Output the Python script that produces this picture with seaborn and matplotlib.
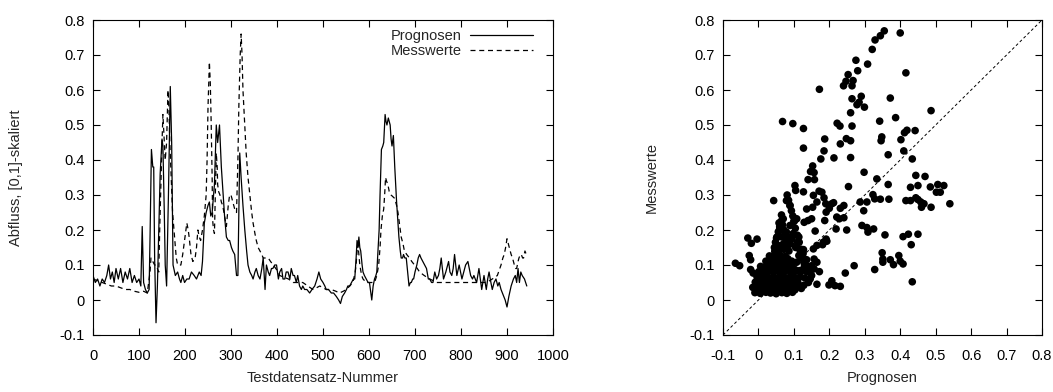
import numpy as np
import pandas as pd
import matplotlib
matplotlib.use("Agg")
import matplotlib.pyplot as plt
from matplotlib.ticker import FuncFormatter, MultipleLocator
from matplotlib.lines import Line2D
import seaborn as sns

# ---------------- data ----------------
prog_x = [0,5,10,15,20,25,30,34,38,42,46,50,55,60,65,70,75,80,85,90,95,100,104,107,110,114,118,122,124,127,130,132,134,137,140,143,146,150,152,155,157,160,164,168,171,174,179,184,188,191,195,199,204,209,214,220,225,231,235,238,242,246,250,253,256,259,262,264,268,271,275,279,282,286,290,294,297,301,304,308,312,315,319,322,326,330,334,337,341,345,348,352,355,359,363,367,370,374,377,381,384,388,391,395,399,403,406,410,413,417,420,424,428,431,435,438,442,445,449,453,456,460,465,471,476,482,487,491,495,500,504,507,512,518,523,529,534,538,542,547,551,554,558,562,566,569,572,574,576,578,580,582,585,587,590,594,598,601,604,606,609,612,615,617,620,622,624,627,630,632,634,635,637,639,642,644,646,648,650,653,656,660,663,665,668,670,673,675,678,681,684,687,690,692,695,697,700,704,707,710,713,717,721,725,729,732,736,739,743,747,751,754,757,762,767,773,776,780,783,786,791,796,802,806,810,815,821,825,828,834,839,842,845,850,855,858,861,865,868,872,876,880,883,887,890,893,896,900,904,909,914,918,921,924,927,930,933,938,943]
prog_y = [0.07,0.05,0.06,0.04,0.06,0.05,0.07,0.10,0.06,0.08,0.05,0.09,0.06,0.09,0.05,0.08,0.06,0.09,0.05,0.07,0.05,0.06,0.04,0.21,0.05,0.03,0.02,0.03,0.18,0.43,0.38,0.38,0.12,-0.065,0.04,0.20,0.36,0.46,0.44,0.25,0.10,0.04,0.30,0.61,0.45,0.10,0.07,0.08,0.06,0.05,0.07,0.05,0.06,0.06,0.08,0.07,0.06,0.08,0.07,0.11,0.22,0.25,0.27,0.28,0.24,0.25,0.30,0.33,0.50,0.45,0.50,0.38,0.32,0.24,0.18,0.17,0.17,0.15,0.14,0.13,0.07,0.07,0.42,0.35,0.27,0.20,0.14,0.10,0.08,0.07,0.06,0.08,0.09,0.07,0.06,0.09,0.12,0.03,0.10,0.08,0.07,0.09,0.09,0.10,0.10,0.06,0.08,0.09,0.06,0.06,0.08,0.08,0.06,0.09,0.07,0.07,0.05,0.07,0.04,0.03,0.04,0.03,0.03,0.02,0.03,0.04,0.06,0.08,0.06,0.05,0.04,0.03,0.03,0.02,0.02,0.01,0.00,-0.01,0.01,0.02,0.03,0.04,0.04,0.05,0.06,0.06,0.12,0.17,0.15,0.18,0.15,0.14,0.10,0.08,0.07,0.06,0.05,0.05,0.02,0.00,0.04,0.06,0.07,0.08,0.15,0.20,0.30,0.43,0.44,0.45,0.50,0.53,0.51,0.50,0.52,0.51,0.50,0.46,0.44,0.47,0.38,0.28,0.22,0.18,0.14,0.12,0.12,0.13,0.12,0.12,0.08,0.04,0.05,0.05,0.06,0.06,0.08,0.10,0.12,0.13,0.12,0.11,0.10,0.09,0.06,0.06,0.05,0.05,0.08,0.06,0.07,0.09,0.12,0.06,0.08,0.11,0.08,0.07,0.09,0.13,0.07,0.10,0.06,0.08,0.10,0.11,0.07,0.06,0.07,0.05,0.09,0.06,0.03,0.07,0.03,0.06,0.08,0.05,0.03,0.05,0.06,0.04,0.05,0.03,0.02,0.01,0.00,-0.02,0.01,0.04,0.06,0.07,0.05,0.09,0.05,0.08,0.07,0.06,0.04]

mess_x = [0,10,20,30,40,50,60,70,80,90,100,110,118,124,126,130,134,137,140,143,145,147,150,152,155,157,160,163,165,167,170,173,176,179,181,184,188,191,195,199,204,207,209,213,217,222,225,228,231,234,238,242,246,248,250,253,255,257,259,260,262,264,266,268,270,271,273,276,279,282,286,290,294,297,300,304,308,312,315,317,320,322,324,326,330,333,337,341,345,348,352,355,359,363,367,370,375,381,386,392,400,406,415,425,435,445,456,467,478,486,493,500,507,518,528,536,544,551,558,565,570,572,574,576,578,580,584,587,594,601,607,612,617,621,624,626,629,632,634,636,638,641,644,648,652,656,660,663,667,670,674,677,682,688,693,699,705,710,715,720,726,732,740,746,760,780,800,815,832,845,855,862,868,874,879,883,887,891,894,897,900,903,905,909,912,916,919,921,924,926,929,931,934,936,939,942]
mess_y = [0.06,0.055,0.05,0.045,0.04,0.04,0.035,0.03,0.03,0.025,0.022,0.025,0.02,0.08,0.12,0.11,0.10,0.10,0.09,0.08,0.20,0.30,0.45,0.53,0.45,0.40,0.45,0.60,0.55,0.45,0.35,0.25,0.20,0.15,0.12,0.10,0.10,0.10,0.13,0.17,0.22,0.20,0.18,0.13,0.11,0.12,0.15,0.20,0.18,0.17,0.20,0.24,0.30,0.40,0.55,0.68,0.62,0.50,0.35,0.23,0.20,0.19,0.30,0.42,0.38,0.33,0.31,0.30,0.28,0.27,0.24,0.21,0.27,0.30,0.30,0.28,0.26,0.25,0.40,0.55,0.70,0.76,0.70,0.60,0.50,0.42,0.35,0.30,0.25,0.22,0.19,0.17,0.15,0.14,0.13,0.12,0.12,0.12,0.11,0.10,0.085,0.07,0.065,0.06,0.05,0.05,0.05,0.04,0.03,0.035,0.04,0.035,0.03,0.03,0.025,0.02,0.025,0.03,0.04,0.05,0.08,0.10,0.14,0.16,0.13,0.10,0.07,0.06,0.05,0.05,0.05,0.05,0.07,0.10,0.15,0.20,0.24,0.26,0.30,0.35,0.34,0.33,0.31,0.30,0.295,0.29,0.27,0.25,0.21,0.18,0.16,0.14,0.13,0.12,0.11,0.10,0.09,0.08,0.075,0.07,0.065,0.06,0.055,0.05,0.05,0.05,0.05,0.05,0.05,0.05,0.05,0.055,0.06,0.065,0.07,0.085,0.10,0.12,0.13,0.15,0.175,0.16,0.15,0.13,0.12,0.10,0.09,0.09,0.11,0.12,0.13,0.13,0.12,0.12,0.14,0.13]

# scatter: Prognosen (x) vs Messwerte (y), read point by point
scat_prog = [0.355,0.344,0.329,0.321,0.400,0.308,0.275,0.280,0.416,0.253,0.247,0.240,0.267,0.264,0.172,0.290,0.264,0.372,0.284,0.278,0.299,0.260,0.487,0.068,0.097,0.127,0.222,0.230,0.264,0.342,0.387,0.419,0.412,0.442,0.187,0.248,0.260,0.348,0.346,0.402,0.127,0.231,0.185,0.410,0.366,0.176,0.213,0.260,0.434,0.153,0.147,0.298,0.157,0.140,0.158,0.334,0.444,0.470,0.103,0.105,0.254,0.366,0.127,0.171,0.179,0.155,0.185,0.323,0.287,0.306,0.328,0.344,0.368,0.043,0.079,0.089,0.429,0.450,0.485,0.506,0.523,0.513,0.502,0.540,0.416,0.429,0.444,0.450,0.458,0.467,0.460,0.487,0.165,0.190,0.207,0.212,0.241,0.136,0.153,0.191,0.200,0.231,0.297,0.150,0.187,0.221,0.228,0.241,0.108,0.129,0.140,0.219,0.160,0.249,0.292,0.306,0.325,0.309,0.357,0.408,0.423,0.450,0.431,0.191,0.193,0.181,0.183,0.165,0.155,0.127,0.114,0.349,0.351,0.351,0.372,0.381,0.396,0.400,0.408,0.270,0.245,0.328,0.434,0.207,0.199,0.216,0.231,0.165,0.157,0.172,0.157,0.165,0.150,0.127,0.116,0.136,0.128,0.108,-0.065,-0.053,-0.030,-0.020,-0.004,-0.026,-0.022,-0.022,-0.015,0.065,0.070,0.060,0.079,0.089,0.051,0.055,0.077,0.089,0.081,0.085,0.089,0.093,0.097,0.101,0.058,0.062,0.066,0.070,0.072,0.100,0.104,0.110,0.115,0.120,0.125,
             0.045,0.048,0.052,0.056,0.060,0.064,0.068,0.072,0.075,0.078,0.082,0.086,0.090,0.094,0.098,
             0.105,0.110,0.114,0.118,0.122,0.126,0.130,0.136,0.140,0.145,0.150,0.146,0.141,
             -0.010,0.005,0.021,0.034,0.050,0.066,0.080,0.096,
             -0.016,0.001,0.014,0.031,0.046,0.059,0.076,0.089,0.106,0.121,
             -0.009,0.006,0.019,0.036,0.051,0.064,0.081,0.094,0.111,
             -0.004,0.011,0.024,0.041,0.054,0.071,0.086,0.099,0.116,0.131,
             0.001,0.014,0.031,0.044,0.061,0.074,0.091,0.104,0.119,
             0.006,0.019,0.036,0.049,0.066,0.079,0.096,
             0.021,0.034,0.051,0.064,0.081,0.094,
             0.031,0.044,0.061,0.076,
             0.046,0.059,
             -0.003,0.012,0.028,0.043,0.058,0.073,0.088,0.103,
             -0.008,0.007,0.022,0.038,0.053,0.068,0.083,0.098,0.113,0.128,
             0.003,0.018,0.033,0.048,0.063,0.078,0.093,0.108,
             0.013,0.028,0.043,0.058,0.073,0.088,0.103,
             0.027,0.042,0.057,0.072,0.087,
             0.038,0.053,0.068,0.083]
scat_mess = [0.769,0.755,0.743,0.716,0.763,0.674,0.685,0.655,0.649,0.644,0.625,0.612,0.627,0.612,0.602,0.582,0.575,0.577,0.565,0.558,0.551,0.535,0.541,0.510,0.504,0.490,0.505,0.497,0.497,0.511,0.521,0.485,0.478,0.484,0.460,0.461,0.455,0.466,0.455,0.458,0.434,0.446,0.426,0.426,0.415,0.403,0.406,0.407,0.403,0.383,0.367,0.365,0.364,0.344,0.344,0.346,0.356,0.353,0.327,0.313,0.324,0.330,0.309,0.311,0.308,0.299,0.292,0.301,0.280,0.280,0.289,0.288,0.288,0.284,0.284,0.270,0.322,0.327,0.323,0.330,0.327,0.308,0.308,0.275,0.284,0.284,0.292,0.287,0.280,0.275,0.265,0.265,0.280,0.275,0.275,0.278,0.270,0.260,0.265,0.251,0.262,0.262,0.255,0.232,0.227,0.237,0.232,0.235,0.232,0.222,0.227,0.203,0.197,0.200,0.213,0.207,0.203,0.194,0.186,0.181,0.188,0.188,0.158,0.174,0.168,0.158,0.165,0.156,0.146,0.144,0.127,0.135,0.117,0.108,0.115,0.101,0.127,0.111,0.103,0.098,0.077,0.087,0.052,0.055,0.043,0.041,0.039,0.045,0.089,0.081,0.117,0.108,0.098,0.089,0.084,0.081,0.108,0.108,0.105,0.098,0.177,0.162,0.174,0.127,0.115,0.087,0.077,0.243,0.232,0.205,0.194,0.179,0.177,0.156,0.156,0.213,0.300,0.285,0.270,0.255,0.240,0.225,0.220,0.200,0.180,0.160,0.145,0.225,0.205,0.185,0.165,0.145,0.130,
             0.150,0.165,0.180,0.195,0.210,0.225,0.215,0.200,0.185,0.170,0.155,0.140,0.160,0.175,0.190,
             0.150,0.165,0.180,0.140,0.120,0.135,0.100,0.115,0.095,0.080,0.070,0.060,0.050,
             0.021,0.019,0.022,0.020,0.018,0.021,0.019,0.022,
             0.036,0.034,0.037,0.035,0.033,0.036,0.034,0.037,0.035,0.033,
             0.051,0.049,0.052,0.050,0.048,0.051,0.049,0.052,0.050,
             0.066,0.064,0.067,0.065,0.063,0.066,0.064,0.067,0.065,0.063,
             0.081,0.079,0.082,0.080,0.078,0.081,0.079,0.082,0.080,
             0.096,0.094,0.097,0.095,0.093,0.096,0.094,
             0.111,0.109,0.112,0.110,0.108,0.111,
             0.126,0.124,0.127,0.125,
             0.139,0.141,
             0.028,0.027,0.029,0.028,0.026,0.028,0.027,0.029,
             0.043,0.042,0.044,0.043,0.041,0.043,0.042,0.044,0.043,0.042,
             0.058,0.057,0.059,0.058,0.056,0.058,0.057,0.059,
             0.088,0.087,0.089,0.088,0.086,0.088,0.087,
             0.103,0.102,0.104,0.103,0.101,
             0.118,0.117,0.119,0.118]

diag = [-0.1, 0.8]

# ---------------- style ----------------
sns.set_style("ticks")
plt.rcParams["font.family"] = ["Liberation Sans", "DejaVu Sans"]
plt.rcParams["font.size"] = 10
plt.rcParams["axes.linewidth"] = 0.8

fig = plt.figure(figsize=(10.53, 3.92), dpi=100)
ax1 = fig.add_axes([93/1053, 1-335/392, (553-93)/1053, (335-20)/392])
ax2 = fig.add_axes([723/1053, 1-335/392, (1042-723)/1053, (335-20)/392])

fmt1 = FuncFormatter(lambda v, p: ("%.1f" % v) if abs(v) > 1e-9 else "0")

df_p = pd.DataFrame({"x": prog_x, "y": prog_y})
df_m = pd.DataFrame({"x": mess_x, "y": mess_y})
sns.lineplot(data=df_p, x="x", y="y", ax=ax1, color="black", lw=0.9,
             sort=False, estimator=None)
sns.lineplot(data=df_m, x="x", y="y", ax=ax1, color="black", lw=0.9,
             sort=False, estimator=None)
ax1.lines[1].set_dashes((4, 3))

ax1.set_xlim(0, 1000)
ax1.set_ylim(-0.1, 0.8)
ax1.xaxis.set_major_locator(MultipleLocator(100))
ax1.yaxis.set_major_locator(MultipleLocator(0.1))
ax1.yaxis.set_major_formatter(fmt1)
ax1.set_xlabel("Testdatensatz-Nummer", labelpad=6)
ax1.set_ylabel("Abfluss, [0,1]-skaliert", labelpad=26)

handles = [Line2D([], [], color="black", lw=0.9),
           Line2D([], [], color="black", lw=0.9, dashes=(4, 3))]
ax1.legend(handles, ["Prognosen", "Messwerte"], loc="upper right",
           frameon=False, markerfirst=False, handlelength=4.3,
           borderaxespad=0.2, labelspacing=0.1, handletextpad=0.6,
           fontsize=10.5, bbox_to_anchor=(0.975, 1.0))

df_s = pd.DataFrame({"Prognosen": scat_prog, "Messwerte": scat_mess})
sns.scatterplot(data=df_s, x="Prognosen", y="Messwerte", ax=ax2,
                color="black", s=30, edgecolor="none", linewidth=0, zorder=3)
sns.lineplot(x=diag, y=diag, ax=ax2, color="black", lw=0.7, zorder=2)
ax2.lines[0].set_dashes((3, 2.5))
ax2.set_xlim(-0.1, 0.8)
ax2.set_ylim(-0.1, 0.8)
for a in (ax2.xaxis, ax2.yaxis):
    a.set_major_locator(MultipleLocator(0.1))
    a.set_major_formatter(fmt1)
ax2.set_xlabel("Prognosen", labelpad=6)
ax2.set_ylabel("Messwerte", labelpad=22)

for ax in (ax1, ax2):
    ax.tick_params(direction="in", length=5, width=0.8, top=True, right=True,
                   labelsize=10.5, pad=6, colors="black")
    ax.tick_params(axis="x", pad=10)
    for s in ax.spines.values():
        s.set_visible(True)
        s.set_color("black")
    ax.xaxis.label.set_size(10.5)
    ax.yaxis.label.set_size(10.5)

fig.savefig("out.png", dpi=100)
